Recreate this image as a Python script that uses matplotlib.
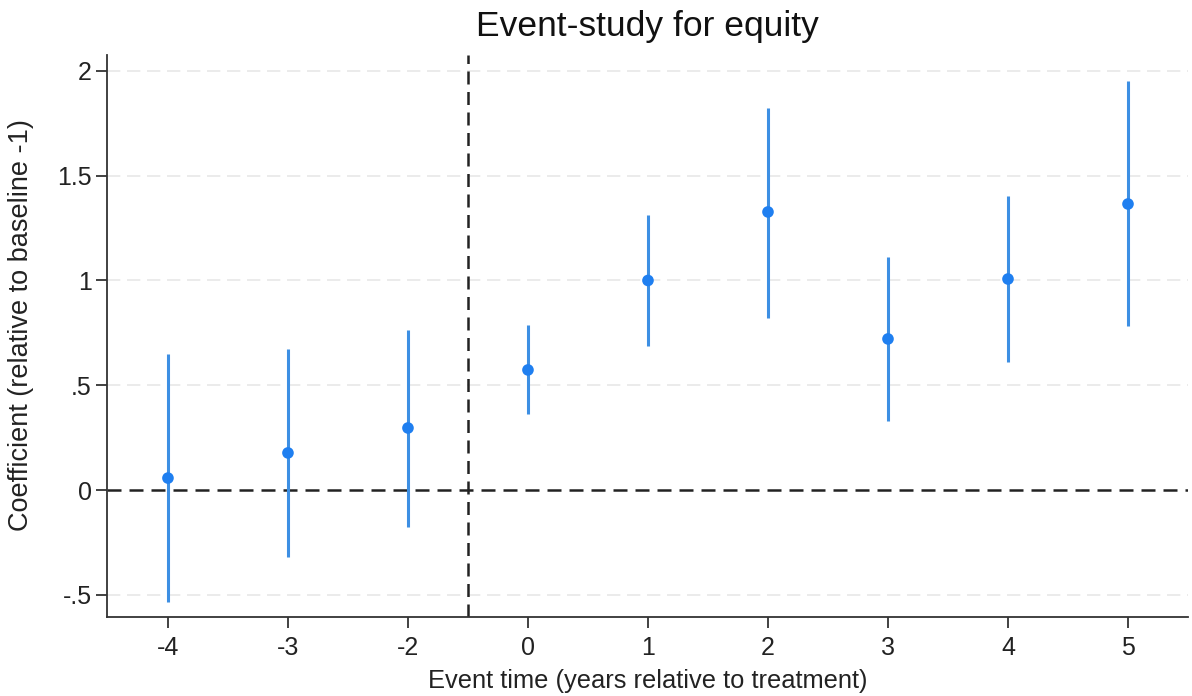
import matplotlib
matplotlib.use("Agg")
import matplotlib.pyplot as plt
import numpy as np

plt.rcParams['font.family'] = ['Liberation Sans', 'DejaVu Sans']

event_labels = ["-4", "-3", "-2", "0", "1", "2", "3", "4", "5"]
coef = [0.057, 0.177, 0.296, 0.573, 1.000, 1.327, 0.721, 1.007, 1.365]
ci_low = [-0.535, -0.320, -0.177, 0.363, 0.687, 0.821, 0.329, 0.611, 0.783]
ci_high = [0.650, 0.673, 0.764, 0.788, 1.313, 1.823, 1.112, 1.403, 1.952]
y_ticks = [-0.5, 0, 0.5, 1, 1.5, 2]
y_tick_labels = ["-.5", "0", ".5", "1", "1.5", "2"]

fig = plt.figure(figsize=(11.92, 6.96), dpi=100)
ax = fig.add_axes([107/1192, 1 - 617/696, (1188 - 107)/1192, (617 - 55)/696])

x = np.arange(len(event_labels))
ax.vlines(x, ci_low, ci_high, color='#3d8fe3', lw=2.2, zorder=3)
ax.scatter(x, coef, s=70, color='#1f7ff0', zorder=4, edgecolors='none')

for yv in y_ticks:
    if yv != 0:
        ax.axhline(yv, color='#e8e8e8', lw=1.2, ls=(0, (8, 4)), zorder=1)
ax.axhline(0, color='#222222', lw=1.8, ls=(0, (5.6, 3.2)), zorder=2)
ax.axvline(2.5, color='#222222', lw=1.8, ls=(0, (5.2, 3.0)), zorder=2)

ax.set_xlim(-0.508, 8.5)
ax.set_ylim(-0.606, 2.076)
ax.set_xticks(x)
ax.set_xticklabels(event_labels)
ax.set_yticks(y_ticks)
ax.set_yticklabels(y_tick_labels)
ax.tick_params(axis='both', labelsize=18, length=8, width=1.3, color='#333333', labelcolor='#222222')
ax.tick_params(axis='x', pad=6)
ax.tick_params(axis='y', pad=3)
for s in ['top', 'right']:
    ax.spines[s].set_visible(False)
for s in ['left', 'bottom']:
    ax.spines[s].set_linewidth(1.3)
    ax.spines[s].set_color('#333333')

ax.set_xlabel("Event time (years relative to treatment)", fontsize=18.4, color='#222222', labelpad=6)
ax.set_ylabel("Coefficient (relative to baseline -1)", fontsize=19.5, color='#222222')
ax.yaxis.set_label_coords(-0.0675, 0.52)
ax.set_title("Event-study for equity", fontsize=25.5, color='#111111', pad=14)

fig.savefig("out.png", dpi=100, facecolor='white')
